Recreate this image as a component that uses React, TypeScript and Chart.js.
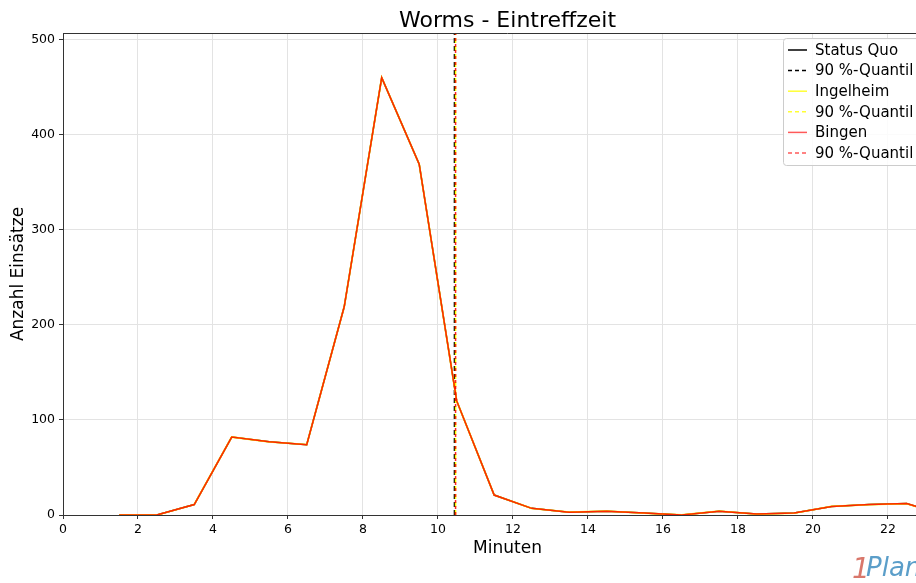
import React, { useEffect, useRef } from "react";
import { Chart, registerables } from "chart.js";

Chart.register(...registerables);

const minutes = [1.5, 2.5, 3.5, 4.5, 5.5, 6.5, 7.5, 8.5, 9.5, 10.5, 11.5, 12.5, 13.5, 14.5, 15.5, 16.5, 17.5, 18.5, 19.5, 20.5, 21.5, 22.5, 23.5];
const statusQuo = [0, 0, 11, 82, 77, 74, 219, 460, 369, 120, 21, 7, 3, 4, 2, 0, 4, 1, 2, 9, 11, 12, 0];
const ingelheim = [0, 0, 11, 82, 77, 74, 219, 460, 369, 120, 21, 7, 3, 4, 2, 0, 4, 1, 2, 9, 11, 12, 0];
const bingen = [0, 0, 11, 82, 77, 74, 219, 460, 369, 120, 21, 7, 3, 4, 2, 0, 4, 1, 2, 9, 11, 12, 0];
const quantileStatusQuo = 10.44;
const quantileIngelheim = 10.47;
const quantileBingen = 10.47;
const xTicks = [0, 2, 4, 6, 8, 10, 12, 14, 16, 18, 20, 22];
const yTicks = [0, 100, 200, 300, 400, 500];
const legendLabels = ["Status Quo", "90 %-Quantil", "Ingelheim", "90 %-Quantil", "Bingen", "90 %-Quantil"];

const FONT = "'DejaVu Sans', sans-serif";
const BLACK = "#000000";
const YELLOW = "rgba(255,255,0,1)";
const RED = "rgba(255,0,0,0.85)";

const toPts = (ys: number[]) => minutes.map((x, i) => ({ x, y: ys[i] }));
const vline = (x: number) => [{ x, y: 0 }, { x, y: 600 }];

const overlayPlugin = {
  id: "overlay",
  afterDraw(chart: any) {
    const { ctx, chartArea } = chart;
    const { left, right, top } = chartArea;
    ctx.save();
    ctx.strokeStyle = "#333";
    ctx.lineWidth = 1;
    ctx.beginPath();
    ctx.moveTo(left, top + 0.5);
    ctx.lineTo(right, top + 0.5);
    ctx.moveTo(right - 0.5, top);
    ctx.lineTo(right - 0.5, chartArea.bottom);
    ctx.stroke();
    // title
    ctx.fillStyle = "#000";
    ctx.font = `22px ${FONT}`;
    ctx.textAlign = "center";
    ctx.textBaseline = "middle";
    ctx.fillText("Worms - Eintreffzeit", (left + right) / 2, 21);
    // legend
    ctx.font = `15px ${FONT}`;
    const tw = Math.max(...legendLabels.map((l) => ctx.measureText(l).width));
    const bx = 783, by = 38, bw = 32 + tw + 6, bh = 127;
    ctx.fillStyle = "rgba(255,255,255,0.85)";
    ctx.strokeStyle = "#cccccc";
    ctx.beginPath();
    ctx.roundRect(bx + 0.5, by + 0.5, bw, bh, 3);
    ctx.fill();
    ctx.stroke();
    const colors = [BLACK, BLACK, "rgba(255,255,0,0.8)", "rgba(255,255,0,0.8)", "rgba(255,0,0,0.65)", "rgba(255,0,0,0.65)"];
    ctx.textAlign = "left";
    legendLabels.forEach((lab, i) => {
      const y = 50 + i * 20.6;
      ctx.strokeStyle = colors[i];
      ctx.lineWidth = 1.5;
      ctx.setLineDash(i % 2 === 1 ? [4, 3] : []);
      ctx.beginPath();
      ctx.moveTo(788, y);
      ctx.lineTo(807, y);
      ctx.stroke();
      ctx.setLineDash([]);
      ctx.fillStyle = "#000";
      ctx.fillText(lab, 815, y + 1);
    });
    // logo
    ctx.textBaseline = "alphabetic";
    ctx.font = `italic 28px ${FONT}`;
    ctx.fillStyle = "#d9776b";
    ctx.fillText("1", 852, 578);
    ctx.font = `italic 26px ${FONT}`;
    ctx.fillStyle = "#5b9ec9";
    ctx.fillText("Plan", 866, 576);
    ctx.restore();
  },
};

export default function App() {
  const ref = useRef<HTMLCanvasElement>(null);
  useEffect(() => {
    document.body.style.margin = "0";
    const chart = new Chart(ref.current!, {
      type: "line",
      data: {
        datasets: [
          { label: "Status Quo", data: toPts(statusQuo), borderColor: BLACK, borderWidth: 1.5, pointRadius: 0, tension: 0, order: 6 },
          { label: "90 %-Quantil", data: vline(quantileStatusQuo), borderColor: BLACK, borderWidth: 1.5, borderDash: [5, 3], pointRadius: 0, order: 5 },
          { label: "Ingelheim", data: toPts(ingelheim), borderColor: YELLOW, borderWidth: 1.8, pointRadius: 0, tension: 0, order: 4 },
          { label: "90 %-Quantil", data: vline(quantileIngelheim), borderColor: YELLOW, borderWidth: 1.5, borderDash: [5, 3], pointRadius: 0, order: 3 },
          { label: "Bingen", data: toPts(bingen), borderColor: RED, borderWidth: 1.5, pointRadius: 0, tension: 0, order: 2 },
          { label: "90 %-Quantil", data: vline(quantileBingen), borderColor: RED, borderWidth: 1.5, borderDash: [3, 3], pointRadius: 0, order: 1 },
        ],
      },
      options: {
        animation: false,
        responsive: false,
        devicePixelRatio: 1,
        layout: { padding: { top: 33, right: 8, left: 0, bottom: 0 } },
        plugins: { legend: { display: false }, title: { display: false }, tooltip: { enabled: false } },
        scales: {
          x: {
            type: "linear",
            min: 0,
            max: 23.71,
            afterBuildTicks: (s: any) => { s.ticks = xTicks.map((v) => ({ value: v })); },
            ticks: { color: "#000", font: { family: FONT, size: 12.5 }, padding: 3, maxRotation: 0, autoSkip: false },
            grid: { color: "#e3e3e3", tickColor: "#333", tickLength: 4 },
            border: { color: "#333", width: 1 },
            title: { display: true, text: "Minuten", color: "#000", font: { family: FONT, size: 17 }, padding: { top: 2, bottom: 24 } },
            afterFit: (s: any) => { s.height = 68; },
          },
          y: {
            type: "linear",
            min: 0,
            max: 507,
            afterBuildTicks: (s: any) => { s.ticks = yTicks.map((v) => ({ value: v })); },
            ticks: { color: "#000", font: { family: FONT, size: 12.5 }, padding: 4, autoSkip: false },
            grid: { color: "#e3e3e3", tickColor: "#333", tickLength: 4 },
            border: { color: "#333", width: 1 },
            title: { display: true, text: "Anzahl Einsätze", color: "#000", font: { family: FONT, size: 17 }, padding: { top: 8, bottom: 0 } },
            afterFit: (s: any) => { s.width = 63; },
          },
        },
      },
      plugins: [overlayPlugin],
    });
    return () => chart.destroy();
  }, []);
  return (
    <div style={{ position: "absolute", left: 0, top: 0, width: 916, height: 583, overflow: "hidden" }}>
      <canvas ref={ref} width={960} height={583} style={{ width: 960, height: 583, display: "block" }} />
    </div>
  );
}
